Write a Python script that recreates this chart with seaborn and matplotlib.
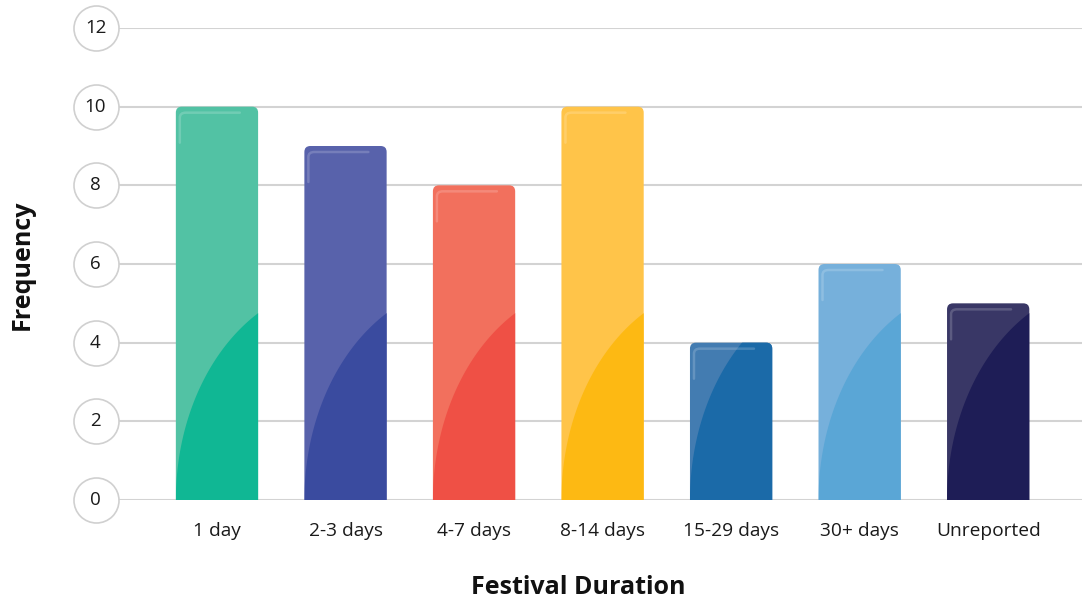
import numpy as np
import pandas as pd
import matplotlib
matplotlib.use("Agg")
import matplotlib.pyplot as plt
import matplotlib.transforms as mtransforms
from matplotlib.path import Path
from matplotlib.patches import PathPatch
import seaborn as sns

# Festival duration frequencies
categories = ["1 day", "2-3 days", "4-7 days", "8-14 days", "15-29 days", "30+ days", "Unreported"]
frequencies = [10, 9, 8, 10, 4, 6, 5]
base_colors = ["#10b794", "#3a4b9f", "#ef5045", "#fdb913", "#1b6aa8", "#5aa6d6", "#1e1d56"]
gloss_colors = ["#52c2a4", "#5862ab", "#f2705d", "#ffc449", "#437cb1", "#76b0db", "#393766"]
y_ticks = [0, 2, 4, 6, 8, 10, 12]

sns.set_theme(style="white")
plt.rcParams["font.family"] = ["Open Sans", "DejaVu Sans"]

W, H = 1088, 601
fig = plt.figure(figsize=(W / 100, H / 100), dpi=100)
ax_l, ax_r, ax_t, ax_b = 118, 1082, 28, 500
ax = fig.add_axes([ax_l / W, 1 - ax_b / H, (ax_r - ax_l) / W, (ax_b - ax_t) / H])

df = pd.DataFrame({"duration": categories, "freq": frequencies})
sns.barplot(data=df, x="duration", y="freq", hue="duration", palette=base_colors,
            legend=False, width=0.64, ax=ax, zorder=2)

xlim = (-0.77, 6.73)
ylim = (0, 12)
ax.set_xlim(*xlim)
ax.set_ylim(*ylim)
px_x = (ax_r - ax_l) / (xlim[1] - xlim[0])   # pixels per category unit
px_y = (ax_b - ax_t) / (ylim[1] - ylim[0])   # pixels per value unit


def rounded_top(x0, x1, h, r_px=6):
    rx, ry = r_px / px_x, r_px / px_y
    verts = [(x0, 0), (x0, h - ry), (x0, h), (x0 + rx, h), (x1 - rx, h),
             (x1, h), (x1, h - ry), (x1, 0), (x0, 0)]
    codes = [Path.MOVETO, Path.LINETO, Path.CURVE3, Path.CURVE3, Path.LINETO,
             Path.CURVE3, Path.CURVE3, Path.LINETO, Path.CLOSEPOLY]
    return Path(verts, codes)


bars = sorted(ax.patches, key=lambda p: p.get_x())
for i, bar in enumerate(bars):
    x0 = bar.get_x()
    w = bar.get_width()
    x1 = x0 + w
    h = bar.get_height()
    bar.set_visible(False)

    shape = PathPatch(rounded_top(x0, x1, h), facecolor=gloss_colors[i],
                      edgecolor="none", zorder=2)
    ax.add_patch(shape)

    # darker lower-right sweep under an elliptical arc
    b = 4.75 / 0.866
    th = np.linspace(0, np.pi / 3, 60)
    ax_x = x1 + w - 2 * w * np.cos(th)
    ax_y = b * np.sin(th)
    poly = np.vstack([np.column_stack([ax_x, ax_y]), [[x1 + 0.05, ax_y[-1]], [x1 + 0.05, 0]]])
    sweep = plt.Polygon(poly, closed=True, facecolor=base_colors[i], edgecolor="none", zorder=3)
    ax.add_patch(sweep)
    sweep.set_clip_path(shape)

    # thin highlight along the top-left corner
    hx = [x0 + 4 / px_x, x0 + 4 / px_x, x0 + 4 / px_x, x0 + 10 / px_x, x0 + 64 / px_x]
    hy = [h - 36 / px_y, h - 11 / px_y, h - 6 / px_y, h - 6 / px_y, h - 6 / px_y]
    hl = Path(list(zip(hx, hy)), [Path.MOVETO, Path.LINETO, Path.CURVE3, Path.CURVE3, Path.LINETO])
    ax.add_patch(PathPatch(hl, facecolor="none", edgecolor="white", alpha=0.18,
                           linewidth=1.8, zorder=4, capstyle="round"))

# horizontal grid lines
ax.set_yticks(y_ticks)
ax.yaxis.grid(True, color="#d3d3d3", linewidth=1.5)
ax.xaxis.grid(False)
ax.set_axisbelow(True)
for s in ax.spines.values():
    s.set_visible(False)

# value ticks shown inside circles
ax.set_yticklabels([])
ax.tick_params(axis="y", length=0)
trans = mtransforms.blended_transform_factory(ax.transAxes, ax.transData)
cx = (95.5 - ax_l) / (ax_r - ax_l)
ax.scatter([cx] * len(y_ticks), y_ticks, s=(45 * 0.72) ** 2, marker="o",
           facecolor="white", edgecolor="#d0d0d0", linewidth=1.2,
           transform=trans, clip_on=False, zorder=5)
for t in y_ticks:
    ax.text(cx, t, str(t), transform=trans, ha="center", va="center",
            fontsize=13.5, color="#1a1a1a", zorder=6)

ax.tick_params(axis="x", length=0, pad=16, labelsize=13.8, labelcolor="#1a1a1a")

ax.set_xlabel("Festival Duration", fontsize=18, fontweight="bold", color="#111111")
ax.xaxis.set_label_coords((578 - ax_l) / (ax_r - ax_l), -(587 - ax_b) / (ax_b - ax_t))
ax.xaxis.label.set_va("center")
ax.set_ylabel("Frequency", fontsize=18, fontweight="bold", color="#111111")
ax.yaxis.set_label_coords((22 - ax_l) / (ax_r - ax_l), (ax_b - 265) / (ax_b - ax_t))
ax.yaxis.label.set_va("center")

fig.savefig("out.png", dpi=100, facecolor="white")
